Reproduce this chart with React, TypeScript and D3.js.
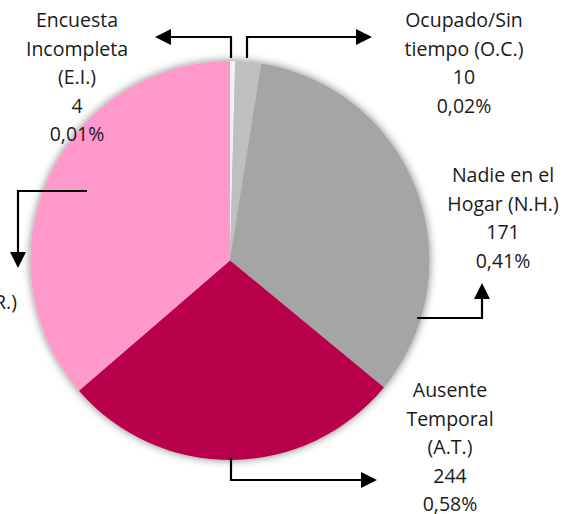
import { useEffect, useRef } from 'react';
import * as d3 from 'd3';

// slice order clockwise from 12 o'clock
const categories = ['E.I.', 'O.C.', 'N.H.', 'A.T.', 'R.'];
// share of the circle as drawn in the picture (%)
const sliceShare = [0.42, 2.1, 33.45, 27.7, 36.33];
const counts = ['4', '10', '171', '244', ''];
const percents = ['0,01%', '0,02%', '0,41%', '0,58%', ''];
const labelLines = [
  ['Encuesta', 'Incompleta', '(E.I.)'],
  ['Ocupado/Sin', 'tiempo (O.C.)'],
  ['Nadie en el', 'Hogar (N.H.)'],
  ['Ausente', 'Temporal', '(A.T.)'],
  ['Rechazo (R.)'],
];
const colors = ['#F2F2F2', '#BFBFBF', '#A5A5A5', '#B9004B', '#FF99CC'];

// label anchor (x, first baseline, anchor) and callout arrow path per slice
const labelPos = [
  { x: 77, y: 27, anchor: 'middle' },
  { x: 464, y: 27, anchor: 'middle' },
  { x: 503, y: 182, anchor: 'middle' },
  { x: 450, y: 397, anchor: 'middle' },
  { x: 17, y: 309, anchor: 'end' },
];
const arrows = [
  [[231, 58], [231, 37], [155, 37]],
  [[247, 58], [247, 37], [372, 37]],
  [[417, 318], [482, 318], [482, 283]],
  [[231, 458], [231, 480], [377, 480]],
  [[87, 191], [18, 191], [18, 268]],
];

export default function App() {
  const svgRef = useRef<SVGSVGElement>(null);

  useEffect(() => {
    if (!svgRef.current) return;
    const width = 565;
    const height = 514;
    const cx = 230;
    const cy = 260.5;
    const radius = 199.5;
    const lineH = 28.5;
    const headLen = 16;
    const headHalf = 8;

    const svg = d3.select(svgRef.current);
    svg.selectAll('*').remove();
    svg.attr('width', width).attr('height', height);

    const defs = svg.append('defs');
    const shadow = defs
      .append('filter')
      .attr('id', 'pieShadow')
      .attr('x', '-20%')
      .attr('y', '-20%')
      .attr('width', '140%')
      .attr('height', '140%');
    shadow
      .append('feDropShadow')
      .attr('dx', 0)
      .attr('dy', 0)
      .attr('stdDeviation', 4)
      .attr('flood-color', '#000')
      .attr('flood-opacity', 0.5);

    const pie = d3
      .pie<number>()
      .sort(null)
      .value((d) => d);
    const arc = d3
      .arc<d3.PieArcDatum<number>>()
      .innerRadius(0)
      .outerRadius(radius);

    const g = svg
      .append('g')
      .attr('transform', `translate(${cx}, ${cy})`)
      .attr('filter', 'url(#pieShadow)');

    g.selectAll('path')
      .data(pie(sliceShare))
      .enter()
      .append('path')
      .attr('d', arc)
      .attr('fill', (_, i) => colors[i]);

    // callouts: polyline ending at the base of a filled triangle head
    const line = d3.line();
    arrows.forEach((pts) => {
      const p = pts.map((d) => [d[0], d[1]] as [number, number]);
      const [ax, ay] = p[p.length - 2];
      const [bx, by] = p[p.length - 1];
      const len = Math.hypot(bx - ax, by - ay);
      const ux = (bx - ax) / len;
      const uy = (by - ay) / len;
      const baseX = bx - ux * headLen;
      const baseY = by - uy * headLen;
      const shaft = [...p.slice(0, -1), [baseX + ux, baseY + uy] as [number, number]];
      svg
        .append('path')
        .attr('d', line(shaft))
        .attr('fill', 'none')
        .attr('stroke', '#000')
        .attr('stroke-width', 2.2);
      svg
        .append('path')
        .attr(
          'd',
          `M${bx},${by}L${baseX - uy * headHalf},${baseY + ux * headHalf}L${baseX + uy * headHalf},${baseY - ux * headHalf}Z`,
        )
        .attr('fill', '#000');
    });

    categories.forEach((_, i) => {
      const lines = [...labelLines[i], counts[i], percents[i]].filter(
        (t) => t !== '',
      );
      const t = svg
        .append('text')
        .attr('text-anchor', labelPos[i].anchor)
        .attr('font-family', '"Open Sans", "Noto Sans", sans-serif')
        .attr('font-size', 19.5)
        .attr('fill', '#1a1a1a');
      lines.forEach((s, j) => {
        t.append('tspan')
          .attr('x', labelPos[i].x)
          .attr('y', labelPos[i].y + j * lineH)
          .text(s);
      });
    });
  }, []);

  return (
    <svg
      ref={svgRef}
      style={{ position: 'absolute', left: 0, top: 0, display: 'block' }}
    />
  );
}
